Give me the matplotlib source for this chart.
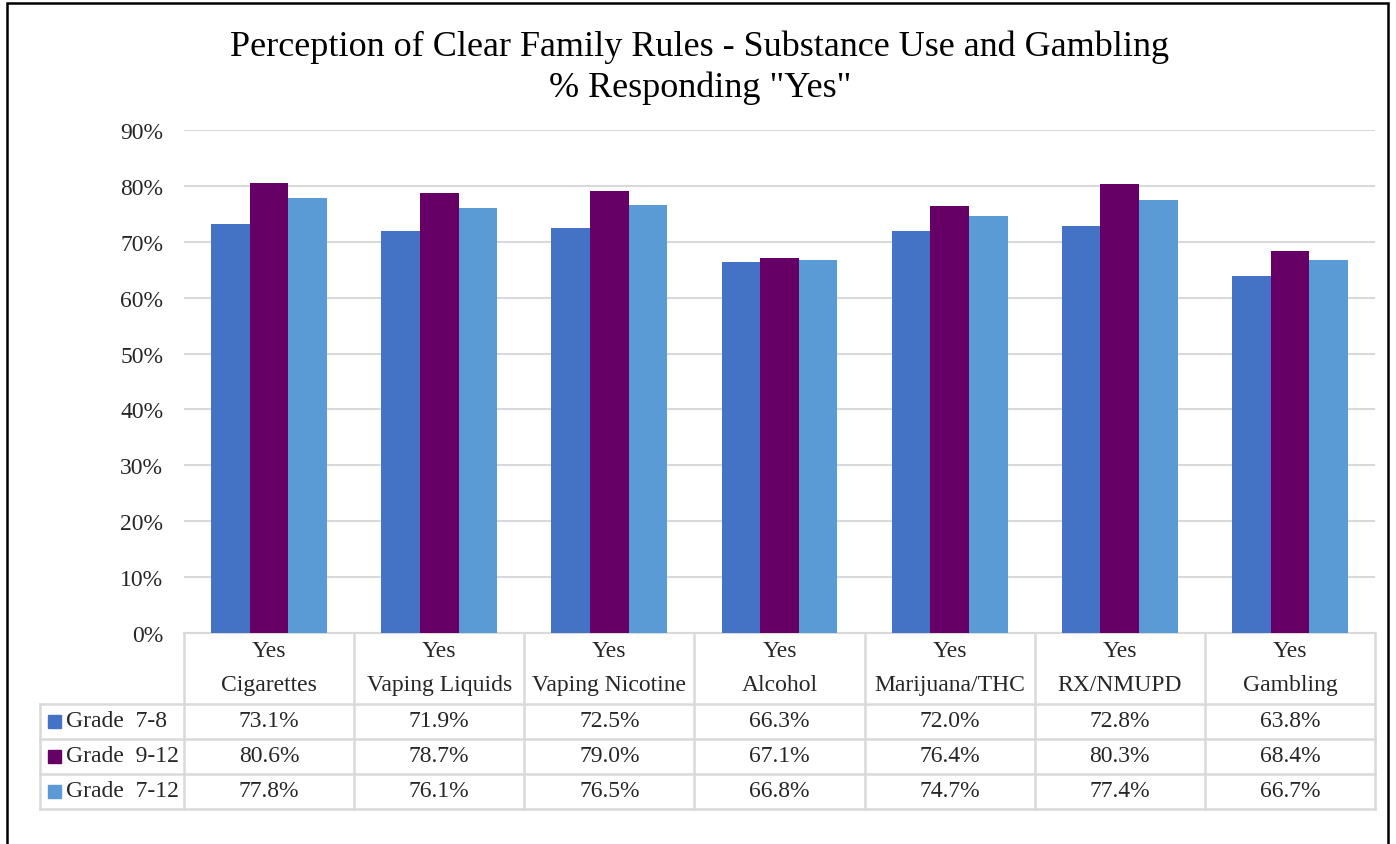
import numpy as np
import matplotlib
matplotlib.use("Agg")
import matplotlib.pyplot as plt
import matplotlib.transforms as mtransforms
from matplotlib.patches import Rectangle

plt.rcParams['font.family'] = ['Liberation Serif', 'DejaVu Serif']

# data
categories = ['Cigarettes', 'Vaping Liquids', 'Vaping Nicotine', 'Alcohol',
              'Marijuana/THC', 'RX/NMUPD', 'Gambling']
series_names = ['Grade  7-8', 'Grade  9-12', 'Grade  7-12']
grade_7_8 = [73.1, 71.9, 72.5, 66.3, 72.0, 72.8, 63.8]
grade_9_12 = [80.6, 78.7, 79.0, 67.1, 76.4, 80.3, 68.4]
grade_7_12 = [77.8, 76.1, 76.5, 66.8, 74.7, 77.4, 66.7]
colors = ['#4472C4', '#660066', '#5B9BD5']

W, H = 1396, 845
fig = plt.figure(figsize=(W / 100, H / 100), dpi=100)

# plot area in pixels
left, right, top, bottom = 184, 1375, 131, 634
ax = fig.add_axes([left / W, 1 - bottom / H, (right - left) / W, (bottom - top) / H])

x = np.arange(len(categories))
bw = 0.227
all_series = [grade_7_8, grade_9_12, grade_7_12]
for i, (vals, c) in enumerate(zip(all_series, colors)):
    ax.bar(x + (i - 1) * bw, np.array(vals) / 100, width=bw, color=c, zorder=3)

ax.set_xlim(-0.5, len(categories) - 0.5)
ax.set_ylim(0, 0.9)
ax.set_yticks(np.arange(0, 0.91, 0.1))
ax.set_yticklabels([f'{int(round(v * 100))}%' for v in np.arange(0, 0.91, 0.1)])
ax.tick_params(axis='y', length=0, pad=15, labelsize=17, labelcolor='#262626')
ax.set_xticks([])
ax.grid(axis='y', color='#D9D9D9', lw=1.5, zorder=0)
for s in ['left', 'right', 'top']:
    ax.spines[s].set_visible(False)
ax.spines['bottom'].set_color('#D9D9D9')
ax.spines['bottom'].set_linewidth(1.5)

# title
fig.text(700 / W, 1 - 47 / H, 'Perception of Clear Family Rules - Substance Use and Gambling',
         ha='center', va='center', fontsize=26)
fig.text(700 / W, 1 - 88 / H, '% Responding "Yes"', ha='center', va='center', fontsize=26)

# data table below the axis
tr = mtransforms.blended_transform_factory(ax.transData, fig.transFigure)
px_per_cat = (right - left) / len(categories)
x_leg = -0.5 - (left - 40) / px_per_cat
fy = lambda py: 1 - py / H
grid_kw = dict(color='#D9D9D9', lw=1.8, transform=tr, clip_on=False)

row_tops = [705, 740, 775, 810]
for py in row_tops:
    ax.plot([x_leg, len(categories) - 0.5], [fy(py), fy(py)], **grid_kw)
for k in range(len(categories) + 1):
    ax.plot([k - 0.5, k - 0.5], [fy(bottom), fy(810)], **grid_kw)
ax.plot([x_leg, x_leg], [fy(705), fy(810)], **grid_kw)

for k, cat in enumerate(categories):
    ax.text(k, fy(652), 'Yes', transform=tr, ha='center', va='center', fontsize=17, color='#262626')
    ax.text(k, fy(686), cat, transform=tr, ha='center', va='center', fontsize=17, color='#262626')

row_centers = [722, 757, 792]
for name, vals, c, py in zip(series_names, all_series, colors, row_centers):
    fig.patches.append(Rectangle((48 / W, fy(py + 7)), 13 / W, 13 / H, color=c,
                                 transform=fig.transFigure, figure=fig))
    fig.text(66 / W, fy(py), name, ha='left', va='center', fontsize=17, color='#262626')
    for k, v in enumerate(vals):
        ax.text(k, fy(py), f'{v:.1f}%', transform=tr, ha='center', va='center',
                fontsize=17, color='#262626')

# outer frame
fig.patches.append(Rectangle((7 / W, -0.05), (1388 - 7) / W, 1.05 - 4 / H, fill=False,
                             edgecolor='black', lw=1.8, transform=fig.transFigure, figure=fig))

fig.savefig('out.png', dpi=100)
